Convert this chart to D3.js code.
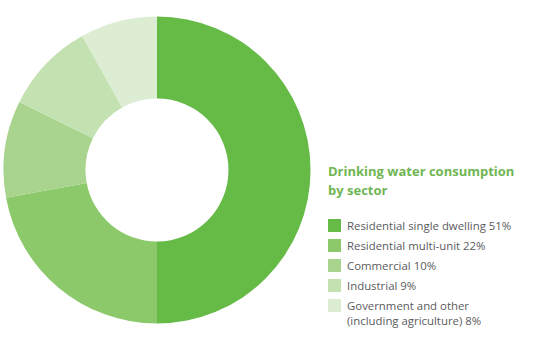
<!DOCTYPE html>
<html><head><meta charset="utf-8">
<script src="https://cdn.jsdelivr.net/npm/d3@7"></script>
<style>body{margin:0;background:#fff}svg{display:block}</style>
</head><body>
<svg id="chart" width="535" height="340"></svg>
<script>
const categories = ["Residential single dwelling", "Residential multi-unit", "Commercial", "Industrial", "Government and other"];
const labelPercents = [51, 22, 10, 9, 8];
// slice shares as drawn in the picture (angles measured)
const sliceShares = [50, 22.1, 10.2, 9.6, 8.1];
const colors = ["#66bb47", "#8cc96b", "#a8d48e", "#c4e2b1", "#dcedd3"];
const legendLines = [
  ["Residential single dwelling 51%"],
  ["Residential multi-unit 22%"],
  ["Commercial 10%"],
  ["Industrial 9%"],
  ["Government and other", "(including agriculture) 8%"]
];
const titleLines = ["Drinking water consumption", "by sector"];

const svg = d3.select("#chart");
const cx = 157, cy = 170, rOuter = 153.5, rInner = 71.5;
const pie = d3.pie().sort(null).value(d => d);
const arc = d3.arc().innerRadius(rInner).outerRadius(rOuter);
svg.append("g").attr("transform", `translate(${cx},${cy})`)
  .selectAll("path").data(pie(sliceShares)).join("path")
  .attr("d", arc).attr("fill", (d, i) => colors[i]);

const font = "'Open Sans', sans-serif";
const title = svg.append("text").attr("x", 328).attr("y", 176)
  .attr("font-family", font).attr("font-weight", 700).attr("font-size", 13)
  .attr("fill", "#6fb653");
titleLines.forEach((t, i) => title.append("tspan").attr("x", 328).attr("dy", i ? 19 : 0).text(t));

const y = d3.scaleBand().domain(d3.range(categories.length)).range([219, 319]).paddingInner(0);
const lg = svg.append("g");
categories.forEach((c, i) => {
  const y0 = y(i);
  lg.append("rect").attr("x", 328).attr("y", y0).attr("width", 13).attr("height", 13).attr("fill", colors[i]);
  const t = lg.append("text").attr("x", 347).attr("y", y0 + 11)
    .attr("font-family", font).attr("font-size", 11.4).attr("fill", "#5a5b5d");
  legendLines[i].forEach((l, j) => t.append("tspan").attr("x", 347).attr("dy", j ? 14.5 : 0).text(l));
});
</script>
</body></html>
